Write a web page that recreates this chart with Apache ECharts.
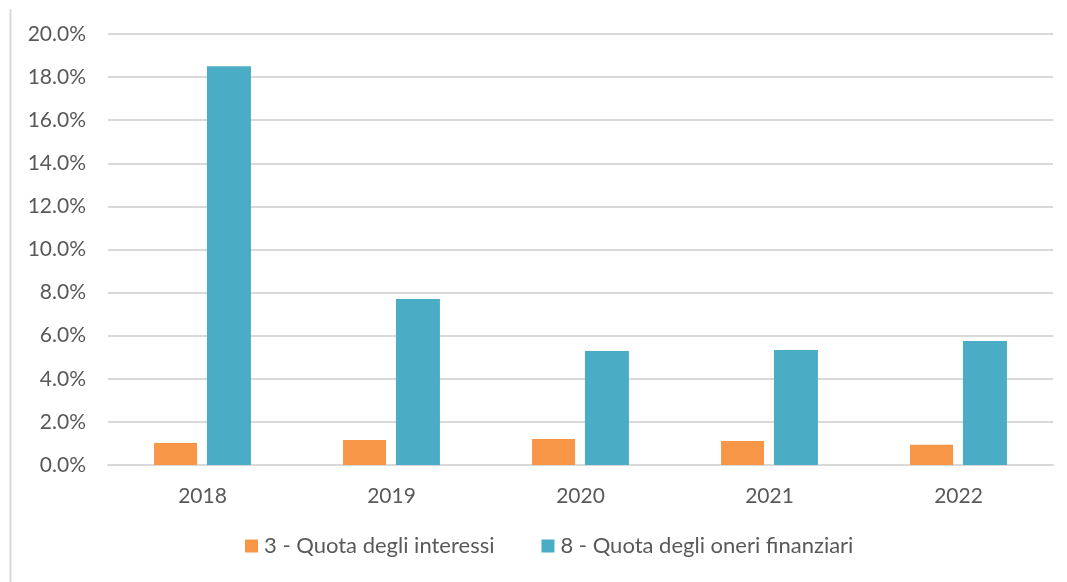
<!DOCTYPE html>
<html>
<head>
<meta charset="utf-8">
<script src="https://cdn.jsdelivr.net/npm/echarts@6/dist/echarts.min.js"></script>
<style>
	html, body { margin: 0; padding: 0; background: #fff; }
	#mychart { width: 1067px; height: 582px; }
</style>
</head>
<body>
<div id="mychart"></div>
<script>
var years = ['2018', '2019', '2020', '2021', '2022'];
var quotaInteressi = [1.02, 1.16, 1.21, 1.11, 0.94];
var quotaOneri = [18.5, 7.70, 5.29, 5.34, 5.75];
var seriesNames = ['3 - Quota degli interessi', '8 - Quota degli oneri finanziari'];

var myChart = echarts.init(document.getElementById('mychart'));
var fontName = 'Lato';
var option = {
	color: ['#F79646', '#4BACC6'],
	animation: false,
	textStyle: { fontFamily: fontName },
	grid: {
		left: 108,
		right: 14,
		top: 34,
		bottom: 117
	},
	graphic: [{
		// bordo sinistro del riquadro
		type: 'line',
		shape: { x1: 10.5, y1: 9, x2: 10.5, y2: 582 },
		style: { stroke: '#d9d9d9', lineWidth: 2 }
	}],
	legend: {
		bottom: 20,
		left: 240,
		itemWidth: 13,
		itemHeight: 13,
		itemGap: 47,
		icon: 'rect',
		textStyle: { color: '#595959', fontSize: 22, fontFamily: fontName, padding: [0, 0, 0, 1] },
		data: seriesNames
	},
	xAxis: {
		type: 'category',
		data: years,
		axisTick: { show: false },
		axisLine: { lineStyle: { color: '#d9d9d9', width: 2 } },
		axisLabel: { color: '#595959', fontSize: 21, margin: 21 }
	},
	yAxis: {
		type: 'value',
		min: 0,
		max: 20,
		interval: 2,
		axisLabel: {
			color: '#595959',
			fontSize: 21,
			margin: 22,
			formatter: function(v) { return v.toFixed(1) + '%'; }
		},
		splitLine: { lineStyle: { color: '#d9d9d9', width: 2 } }
	},
	series: [{
		name: seriesNames[0],
		type: 'bar',
		data: quotaInteressi,
		barWidth: 43,
		barGap: '23%'
	}, {
		name: seriesNames[1],
		type: 'bar',
		data: quotaOneri,
		barWidth: 44,
		barGap: '23%'
	}]
};
myChart.setOption(option);
</script>
</body>
</html>
